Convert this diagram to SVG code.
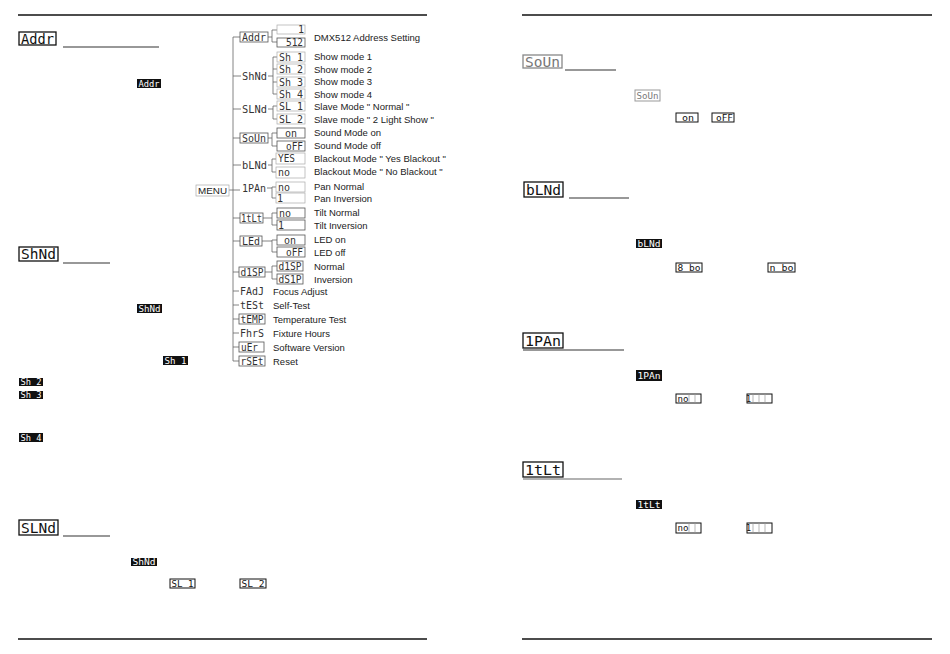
<svg xmlns="http://www.w3.org/2000/svg" width="950" height="654" viewBox="0 0 950 654">
<style>
.rule{stroke:#111;stroke-width:1.3;fill:none}
.ul{stroke:#333;stroke-width:1.1;fill:none}
.hbox{fill:#fff;stroke:#111;stroke-width:1.3}
.hbox.g{stroke:#888}
.seg{font-family:"DejaVu Sans Mono",monospace;fill:#111}
.seg.g{fill:#777}
.h{font-size:14px}
.inv{fill:#111}
.invt{font-family:"DejaVu Sans Mono",monospace;font-size:8.5px;fill:#fff}
.obox{fill:#fff;stroke:#111;stroke-width:1}
.obox.g{stroke:#999}
.ot{font-family:"DejaVu Sans Mono",monospace;font-size:8.5px;fill:#111}
.cell{stroke:#999;stroke-width:0.7}
.tl{stroke:#666;stroke-width:0.8;fill:none}
.t1{font-family:"DejaVu Sans Mono",monospace;font-size:10.5px;fill:#333}
.t2{font-family:"DejaVu Sans Mono",monospace;font-size:10px;fill:#333}
.b1{fill:#fff;stroke:#555;stroke-width:0.8}
.b2{fill:#fff;stroke:#aaa;stroke-width:0.7}
.lab{font-family:"Liberation Sans",Arial,sans-serif;font-size:9.5px;fill:#222}
</style>

<!-- page rules -->
<g id="rules">
<line class="rule" x1="18" y1="15" x2="427" y2="15"/>
<line class="rule" x1="522" y1="15" x2="932" y2="15"/>
<line class="rule" x1="18" y1="639" x2="427" y2="639"/>
<line class="rule" x1="522" y1="639" x2="932" y2="639"/>
</g>

<!-- Left page: Addr section -->
<g id="sec-addr">
<rect class="hbox" x="19" y="32" width="37" height="13"/>
<text class="seg h" x="21" y="43.5" textLength="33" lengthAdjust="spacingAndGlyphs">Addr</text>
<line class="ul" x1="63" y1="47" x2="159" y2="47"/>
<rect class="inv" x="137" y="79" width="24" height="9"/>
<text class="invt" x="138.5" y="86.5" textLength="21" lengthAdjust="spacingAndGlyphs">Addr</text>
</g>

<g id="sec-shnd">
<rect class="hbox" x="19" y="247" width="39" height="14"/>
<text class="seg h" x="21" y="259" textLength="35" lengthAdjust="spacingAndGlyphs">ShNd</text>
<line class="ul" x1="63" y1="263" x2="110" y2="263"/>
<rect class="inv" x="137" y="304" width="25" height="9"/>
<text class="invt" x="138.5" y="311.5" textLength="22" lengthAdjust="spacingAndGlyphs">ShNd</text>
<rect class="inv" x="163" y="356" width="25" height="9"/>
<text class="invt" x="164.5" y="363.5" textLength="22" lengthAdjust="spacingAndGlyphs">Sh 1</text>
<rect class="inv" x="19" y="378" width="24" height="8"/>
<text class="invt" x="20.5" y="385" textLength="21" lengthAdjust="spacingAndGlyphs">Sh 2</text>
<rect class="inv" x="19" y="391" width="24" height="8"/>
<text class="invt" x="20.5" y="398" textLength="21" lengthAdjust="spacingAndGlyphs">Sh 3</text>
<rect class="inv" x="19" y="433" width="24" height="9"/>
<text class="invt" x="20.5" y="440.5" textLength="21" lengthAdjust="spacingAndGlyphs">Sh 4</text>
</g>

<g id="sec-slnd">
<rect class="hbox" x="19" y="520" width="39" height="15"/>
<text class="seg h" x="21" y="532.5" textLength="35" lengthAdjust="spacingAndGlyphs">SLNd</text>
<line class="ul" x1="63" y1="536" x2="110" y2="536"/>
<rect class="inv" x="131" y="558" width="26" height="8"/>
<text class="invt" x="132.5" y="565" textLength="23" lengthAdjust="spacingAndGlyphs">ShNd</text>
<rect class="obox" x="170" y="579" width="25" height="9"/>
<text class="ot" x="171.5" y="586.5" textLength="22" lengthAdjust="spacingAndGlyphs">SL 1</text>
<rect class="obox" x="240" y="579" width="26" height="9"/>
<text class="ot" x="241.5" y="586.5" textLength="23" lengthAdjust="spacingAndGlyphs">SL 2</text>
</g>

<!-- Menu tree -->
<g id="connectors">
<line class="tl" x1="233" y1="37" x2="233" y2="361"/>
<line class="tl" x1="229" y1="190" x2="240" y2="190"/>
<line class="tl" x1="233" y1="37" x2="240" y2="37"/>
<line class="tl" x1="233" y1="76" x2="241" y2="76"/>
<line class="tl" x1="233" y1="109" x2="241" y2="109"/>
<line class="tl" x1="233" y1="138" x2="240" y2="138"/>
<line class="tl" x1="233" y1="165" x2="241" y2="165"/>
<line class="tl" x1="233" y1="218" x2="240" y2="218"/>
<line class="tl" x1="233" y1="241" x2="240" y2="241"/>
<line class="tl" x1="233" y1="272" x2="239" y2="272"/>
<line class="tl" x1="233" y1="291" x2="239" y2="291"/>
<line class="tl" x1="233" y1="305" x2="239" y2="305"/>
<line class="tl" x1="233" y1="319" x2="239" y2="319"/>
<line class="tl" x1="233" y1="333" x2="239" y2="333"/>
<line class="tl" x1="233" y1="347" x2="239" y2="347"/>
<line class="tl" x1="233" y1="361" x2="239" y2="361"/>
<!-- second level brackets -->
<path class="tl" d="M268 37H272M272 30V42M272 30H277M272 42H277"/>
<path class="tl" d="M268 76H273M273 57V94M273 57H277M273 69H277M273 82H277M273 94H277"/>
<path class="tl" d="M268 109H273M273 106V119M273 106H277M273 119H277"/>
<path class="tl" d="M268 138H272M272 133V146M272 133H277M272 146H277"/>
<path class="tl" d="M268 165H272M272 159V172M272 159H276M272 172H276"/>
<path class="tl" d="M267 188H272M272 187V198M272 187H276M272 198H276"/>
<path class="tl" d="M263 218H272M272 213V225M272 213H277M272 225H277"/>
<path class="tl" d="M262 241H272M272 240V252M272 240H277M272 252H277"/>
<path class="tl" d="M265 272H272M272 266V279M272 266H277M272 279H277"/>
</g>

<g id="menu">
<rect class="b2" x="196" y="185" width="33" height="11"/>
<text class="lab" x="198" y="194" font-size="9" textLength="29" lengthAdjust="spacingAndGlyphs">MENU</text>
</g>

<g id="n-addr">
<rect class="b1" x="240" y="32" width="28" height="10"/>
<text class="t1" x="242" y="40.5" textLength="24" lengthAdjust="spacingAndGlyphs">Addr</text>
<rect class="b2" x="277" y="25" width="28" height="9"/>
<text class="t2" x="298" y="32.5">1</text>
<rect class="b1" x="277" y="38" width="28" height="9"/>
<text class="t2" x="286" y="46" textLength="17" lengthAdjust="spacingAndGlyphs">512</text>
<text class="lab" x="314" y="40.5">DMX512 Address Setting</text>
</g>

<g id="n-shnd">
<text class="t1" x="242" y="80" textLength="25" lengthAdjust="spacingAndGlyphs">ShNd</text>
<rect class="b2" x="277" y="52" width="28" height="10"/>
<text class="t2" x="279" y="60.5" textLength="24" lengthAdjust="spacingAndGlyphs">Sh 1</text>
<rect class="b2" x="277" y="64" width="28" height="10"/>
<text class="t2" x="279" y="72.5" textLength="24" lengthAdjust="spacingAndGlyphs">Sh 2</text>
<rect class="b2" x="277" y="77" width="28" height="10"/>
<text class="t2" x="279" y="85.5" textLength="24" lengthAdjust="spacingAndGlyphs">Sh 3</text>
<rect class="b2" x="277" y="89" width="28" height="10"/>
<text class="t2" x="279" y="97.5" textLength="24" lengthAdjust="spacingAndGlyphs">Sh 4</text>
<text class="lab" x="314" y="60">Show mode 1</text>
<text class="lab" x="314" y="72.5">Show mode 2</text>
<text class="lab" x="314" y="85">Show mode 3</text>
<text class="lab" x="314" y="97.5">Show mode 4</text>
</g>

<g id="n-slnd">
<text class="t1" x="242" y="113" textLength="25" lengthAdjust="spacingAndGlyphs">SLNd</text>
<rect class="b2" x="277" y="101" width="28" height="10"/>
<text class="t2" x="279" y="109.5" textLength="24" lengthAdjust="spacingAndGlyphs">SL 1</text>
<rect class="b2" x="277" y="114" width="28" height="10"/>
<text class="t2" x="279" y="122.5" textLength="24" lengthAdjust="spacingAndGlyphs">SL 2</text>
<text class="lab" x="314" y="109.5">Slave Mode " Normal "</text>
<text class="lab" x="314" y="122.5">Slave mode " 2 Light Show "</text>
</g>

<g id="n-soun">
<rect class="b1" x="240" y="133" width="28" height="10"/>
<text class="t1" x="242" y="141.5" textLength="24" lengthAdjust="spacingAndGlyphs">SoUn</text>
<rect class="b1" x="277" y="128" width="28" height="10"/>
<text class="t2" x="285" y="136.5" textLength="12" lengthAdjust="spacingAndGlyphs">on</text>
<rect class="b1" x="277" y="141" width="28" height="10"/>
<text class="t2" x="286" y="149.5" textLength="17" lengthAdjust="spacingAndGlyphs">oFF</text>
<text class="lab" x="314" y="136">Sound Mode on</text>
<text class="lab" x="314" y="149">Sound Mode off</text>
</g>

<g id="n-blnd">
<text class="t1" x="242" y="169" textLength="25" lengthAdjust="spacingAndGlyphs">bLNd</text>
<rect class="b2" x="276" y="153" width="29" height="11"/>
<text class="t2" x="278" y="162" textLength="17" lengthAdjust="spacingAndGlyphs">YES</text>
<rect class="b2" x="276" y="167" width="29" height="11"/>
<text class="t2" x="278" y="176" textLength="12" lengthAdjust="spacingAndGlyphs">no</text>
<text class="lab" x="314" y="162">Blackout Mode " Yes Blackout "</text>
<text class="lab" x="314" y="175">Blackout Mode " No Blackout "</text>
</g>

<g id="n-1pan">
<text class="t1" x="242" y="192" textLength="24" lengthAdjust="spacingAndGlyphs">1PAn</text>
<rect class="b2" x="276" y="182" width="29" height="10"/>
<text class="t2" x="278" y="190.5" textLength="12" lengthAdjust="spacingAndGlyphs">no</text>
<rect class="b2" x="276" y="193" width="29" height="10"/>
<text class="t2" x="277" y="201.5">1</text>
<text class="lab" x="314" y="189.5">Pan Normal</text>
<text class="lab" x="314" y="201.5">Pan Inversion</text>
</g>

<g id="n-1tlt">
<rect class="b1" x="240" y="213" width="23" height="10"/>
<text class="t1" x="241" y="221.5" textLength="21" lengthAdjust="spacingAndGlyphs">1tLt</text>
<rect class="b1" x="277" y="208" width="28" height="10"/>
<text class="t2" x="279" y="216.5" textLength="12" lengthAdjust="spacingAndGlyphs">no</text>
<rect class="b1" x="277" y="220" width="28" height="10"/>
<text class="t2" x="278" y="228.5">1</text>
<text class="lab" x="314" y="215.5">Tilt Normal</text>
<text class="lab" x="314" y="229">Tilt Inversion</text>
</g>

<g id="n-led">
<rect class="b1" x="240" y="236" width="22" height="10"/>
<text class="t1" x="242" y="244.5" textLength="18" lengthAdjust="spacingAndGlyphs">LEd</text>
<rect class="b1" x="277" y="235" width="28" height="10"/>
<text class="t2" x="284" y="243.5" textLength="12" lengthAdjust="spacingAndGlyphs">on</text>
<rect class="b1" x="277" y="247" width="28" height="10"/>
<text class="t2" x="286" y="255.5" textLength="17" lengthAdjust="spacingAndGlyphs">oFF</text>
<text class="lab" x="314" y="243">LED on</text>
<text class="lab" x="314" y="255.5">LED off</text>
</g>

<g id="n-disp">
<rect class="b1" x="239" y="267" width="26" height="10"/>
<text class="t1" x="240.5" y="275.5" textLength="23" lengthAdjust="spacingAndGlyphs">d1SP</text>
<rect class="b1" x="277" y="261" width="26" height="10"/>
<text class="t2" x="278.5" y="269.5" textLength="23" lengthAdjust="spacingAndGlyphs">d1SP</text>
<rect class="b1" x="277" y="274" width="26" height="10"/>
<text class="t2" x="278.5" y="282.5" textLength="23" lengthAdjust="spacingAndGlyphs">dS1P</text>
<text class="lab" x="314" y="269.5">Normal</text>
<text class="lab" x="314" y="283">Inversion</text>
</g>

<g id="n-fadj">
<text class="t1" x="240" y="295" textLength="24" lengthAdjust="spacingAndGlyphs">FAdJ</text>
<text class="lab" x="273" y="294.5">Focus Adjust</text>
</g>
<g id="n-test">
<text class="t1" x="240" y="309" textLength="24" lengthAdjust="spacingAndGlyphs">tESt</text>
<text class="lab" x="273" y="308.5">Self-Test</text>
</g>
<g id="n-temp">
<rect class="b1" x="239" y="314" width="26" height="10"/>
<text class="t1" x="240.5" y="322.5" textLength="23" lengthAdjust="spacingAndGlyphs">tEMP</text>
<text class="lab" x="273" y="322.5">Temperature Test</text>
</g>
<g id="n-fhrs">
<text class="t1" x="240" y="337" textLength="24" lengthAdjust="spacingAndGlyphs">FhrS</text>
<text class="lab" x="273" y="336.5">Fixture Hours</text>
</g>
<g id="n-ver">
<rect class="b1" x="239" y="342" width="25" height="10"/>
<text class="t1" x="241" y="350.5" textLength="17" lengthAdjust="spacingAndGlyphs">uEr</text>
<text class="lab" x="273" y="350.5">Software Version</text>
</g>
<g id="n-rset">
<rect class="b1" x="239" y="356" width="26" height="10"/>
<text class="t1" x="240.5" y="364.5" textLength="23" lengthAdjust="spacingAndGlyphs">rSEt</text>
<text class="lab" x="273" y="364.5">Reset</text>
</g>

<!-- Right page -->
<g id="sec-soun">
<rect class="hbox g" x="523" y="55" width="39" height="13"/>
<text class="seg g h" x="525" y="66.5" textLength="35" lengthAdjust="spacingAndGlyphs">SoUn</text>
<line class="ul" x1="565" y1="70" x2="616" y2="70"/>
<rect class="obox g" x="635" y="90" width="25" height="11"/>
<text class="ot" x="636.5" y="98.5" fill="#777" style="fill:#777" textLength="22" lengthAdjust="spacingAndGlyphs">SoUn</text>
<rect class="obox" x="676" y="113" width="22" height="9"/>
<text class="ot" x="682" y="120.5" textLength="12" lengthAdjust="spacingAndGlyphs">on</text>
<rect class="obox" x="712" y="113" width="22" height="9"/>
<text class="ot" x="716" y="120.5" textLength="17" lengthAdjust="spacingAndGlyphs">oFF</text>
</g>

<g id="sec-blnd">
<rect class="hbox" x="524" y="182" width="39" height="15"/>
<text class="seg h" x="526" y="194.5" textLength="35" lengthAdjust="spacingAndGlyphs">bLNd</text>
<line class="ul" x1="569" y1="198" x2="629" y2="198"/>
<rect class="inv" x="636" y="239" width="26" height="9"/>
<text class="invt" x="637.5" y="246.5" textLength="23" lengthAdjust="spacingAndGlyphs">bLNd</text>
<rect class="obox" x="676" y="263" width="26" height="9"/>
<text class="ot" x="677.5" y="270.5" textLength="23" lengthAdjust="spacingAndGlyphs">8 bo</text>
<rect class="obox" x="768" y="263" width="27" height="9"/>
<text class="ot" x="769.5" y="270.5" textLength="24" lengthAdjust="spacingAndGlyphs">n bo</text>
</g>

<g id="sec-1pan">
<rect class="hbox" x="523" y="333" width="40" height="15"/>
<text class="seg h" x="525" y="345.5" textLength="36" lengthAdjust="spacingAndGlyphs">1PAn</text>
<line class="ul" x1="523" y1="350" x2="624" y2="350"/>
<rect class="inv" x="636" y="370" width="26" height="11"/>
<text class="invt" x="637.5" y="378.5" textLength="23" lengthAdjust="spacingAndGlyphs">1PAn</text>
<rect class="obox" x="676" y="394" width="25" height="9"/>
<line class="cell" x1="689" y1="394" x2="689" y2="403"/>
<line class="cell" x1="695" y1="394" x2="695" y2="403"/>
<text class="ot" x="677.5" y="401.5" textLength="11" lengthAdjust="spacingAndGlyphs">no</text>
<rect class="obox" x="747" y="394" width="25" height="9"/>
<line class="cell" x1="753" y1="394" x2="753" y2="403"/>
<line class="cell" x1="759" y1="394" x2="759" y2="403"/>
<line class="cell" x1="765" y1="394" x2="765" y2="403"/>
<text class="ot" x="746" y="401.5">1</text>
</g>

<g id="sec-1tlt">
<rect class="hbox" x="523" y="462" width="40" height="15"/>
<text class="seg h" x="525" y="474.5" textLength="36" lengthAdjust="spacingAndGlyphs">1tLt</text>
<line class="ul" x1="523" y1="479" x2="622" y2="479" style="stroke:#999;stroke-width:1.4"/>
<rect class="inv" x="636" y="500" width="26" height="9"/>
<text class="invt" x="637.5" y="507.5" textLength="23" lengthAdjust="spacingAndGlyphs">1tLt</text>
<rect class="obox" x="676" y="523" width="25" height="10"/>
<line class="cell" x1="689" y1="523" x2="689" y2="533"/>
<line class="cell" x1="695" y1="523" x2="695" y2="533"/>
<text class="ot" x="677.5" y="531" textLength="11" lengthAdjust="spacingAndGlyphs">no</text>
<rect class="obox" x="747" y="523" width="25" height="10"/>
<line class="cell" x1="753" y1="523" x2="753" y2="533"/>
<line class="cell" x1="759" y1="523" x2="759" y2="533"/>
<line class="cell" x1="765" y1="523" x2="765" y2="533"/>
<text class="ot" x="746" y="531">1</text>
</g>
</svg>
